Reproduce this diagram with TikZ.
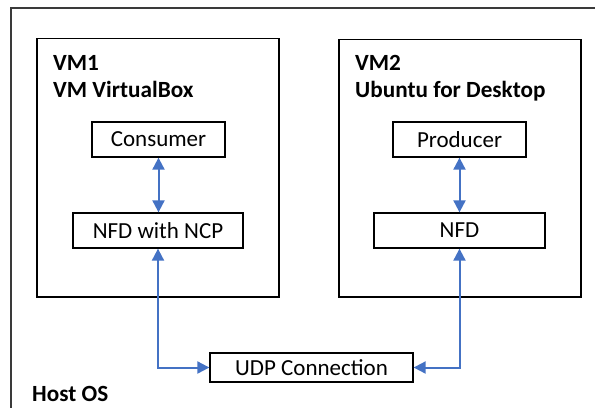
\documentclass[tikz,border=0pt]{standalone}
\usepackage{fontspec}
\setmainfont{Carlito}
\usetikzlibrary{arrows.meta}
\definecolor{arrowblue}{HTML}{4472C4}
\definecolor{framegray}{HTML}{3A3A3A}
\tikzset{
  box/.style={draw=black, line width=1.3bp, minimum height=35bp, inner sep=0pt,
    font=\fontsize{23bp}{27bp}\selectfont},
  vmbox/.style={draw=black, line width=1.5bp},
  title/.style={inner sep=0pt, anchor=base west, font=\fontsize{23.2bp}{27bp}\selectfont\bfseries},
  link/.style={draw=arrowblue, line width=2bp,
    {Triangle[length=12bp,width=12bp]}-{Triangle[length=12bp,width=12bp]}}
}
\begin{document}
\begin{tikzpicture}[x=1bp,y=-1bp]
\useasboundingbox (0,0) rectangle (595,408);
% host frame (open on right and bottom)
\draw[framegray, line width=2bp] (595,7.5) -- (11,7.5) -- (11,408);
% VM boxes
\draw[vmbox] (37,38.5) rectangle (279,297);
\draw[vmbox] (339,39.5) rectangle (581,297);
% titles
\node[title] (vmonea) at (53,70) {VM1};
\node[title] (vmoneb) at (53,97) {VM VirtualBox};
\node[title] (vmtwoa) at (355,70) {VM2};
\node[title] (vmtwob) at (355,97) {Ubuntu for Desktop};
\node[title] (host) at (32,401) {Host OS};
% inner boxes
\node[box, minimum width=133bp] (consumer) at (158.5,139.5) {Consumer};
\node[box, minimum width=133bp] (producer) at (459.5,139.5) {Producer};
\node[box, minimum width=170bp] (ncp) at (158,230.5) {NFD with NCP};
\node[box, minimum width=171bp] (nfd) at (459.5,230.5) {NFD};
\node[box, minimum width=203bp, minimum height=29bp] (udp) at (311.5,367.5) {UDP Connection};
% connectors
\draw[link] (consumer.south) -- (consumer.south |- ncp.north);
\draw[link] (producer.south) -- (producer.south |- nfd.north);
\draw[link] (ncp.south) |- (udp.west);
\draw[link] (nfd.south) |- (udp.east);
\end{tikzpicture}
\end{document}
